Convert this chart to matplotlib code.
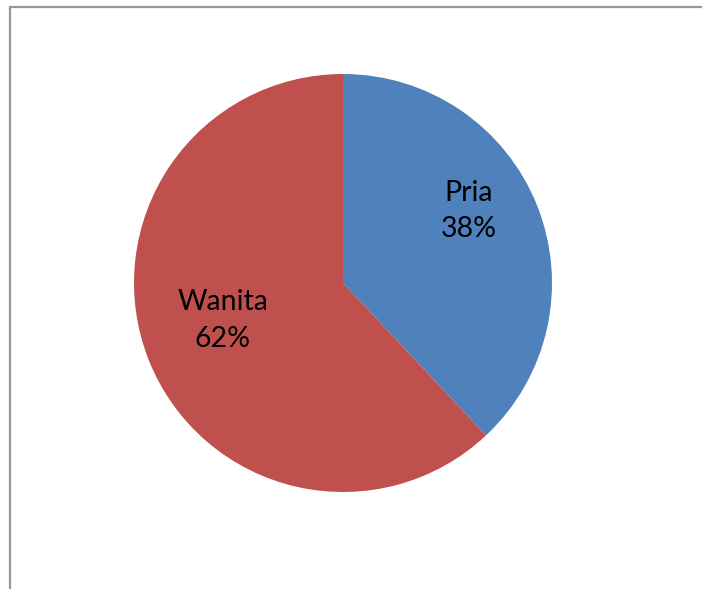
import matplotlib
matplotlib.use("Agg")
import matplotlib.pyplot as plt
from matplotlib.patches import Rectangle

# data
labels = ["Pria", "Wanita"]
values = [38, 62]
colors = ["#4F81BD", "#C0504D"]

W, H = 702, 589
fig = plt.figure(figsize=(W / 100, H / 100), dpi=100)
fig.patch.set_facecolor("white")

# chart frame (runs past the right/bottom edge of the picture)
fig.add_artist(Rectangle((10 / W, -0.05), 1.1, 1 - 7 / H + 0.05, transform=fig.transFigure,
                         fill=False, edgecolor="#979797", linewidth=1.6))

cx, cy, r = 343, 283, 209
ax = fig.add_axes([(cx - r) / W, (H - cy - r) / H, 2 * r / W, 2 * r / H])

wedges, texts = ax.pie(values, colors=colors, startangle=90, counterclock=False,
                       labels=[f"{l}\n{v}%" for l, v in zip(labels, values)],
                       labeldistance=0.66, wedgeprops=dict(linewidth=0),
                       textprops=dict(fontsize=20.5, family=["Lato", "DejaVu Sans"],
                                      ha="center", va="center", linespacing=1.5))
# nudge labels to where the original places them
texts[0].set_position((0.60, 0.345))
texts[1].set_position((-0.575, -0.18))
ax.set_xlim(-1, 1)
ax.set_ylim(-1, 1)
ax.set_aspect("equal")
ax.axis("off")

fig.savefig("out.png", dpi=100, facecolor="white")
